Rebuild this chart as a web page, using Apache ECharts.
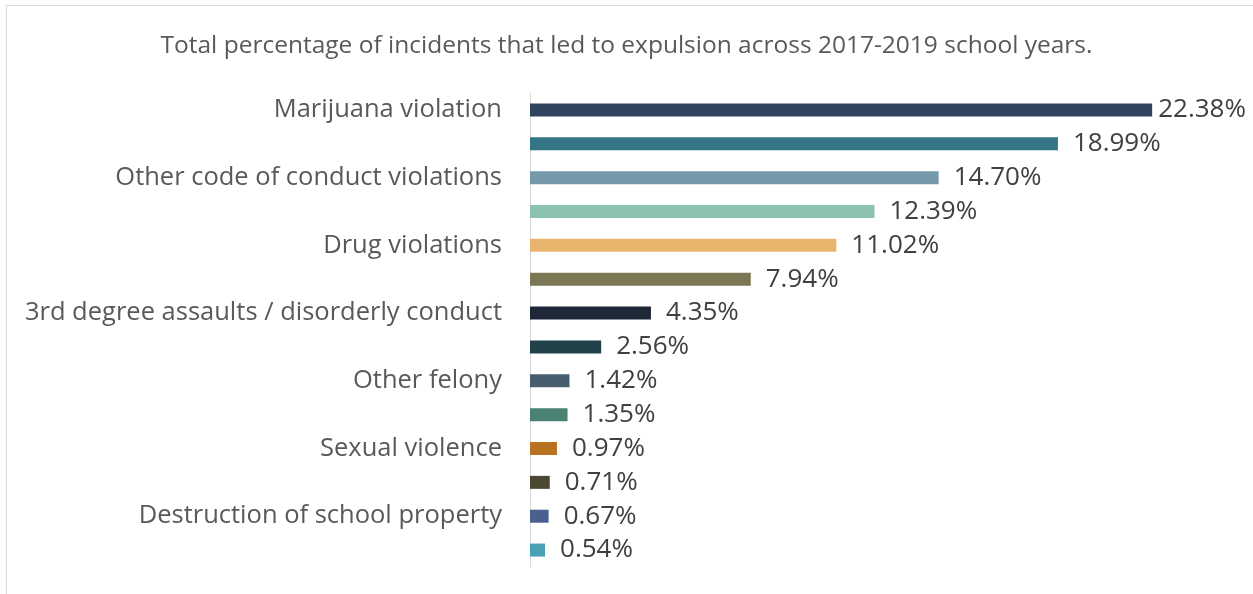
<!DOCTYPE html>
<html>
<head>
<meta charset="utf-8">
<script src="https://cdn.jsdelivr.net/npm/echarts@6/dist/echarts.min.js"></script>
<style>
html,body{margin:0;padding:0;background:#fff;}
#chart{width:1253px;height:594px;}
</style>
</head>
<body>
<div id="chart"></div>
<script>
const titleText = 'Total percentage of incidents that led to expulsion across 2017-2019 school years.';
const categories = [
  'Marijuana violation', '',
  'Other code of conduct violations', '',
  'Drug violations', '',
  '3rd degree assaults / disorderly conduct', '',
  'Other felony', '',
  'Sexual violence', '',
  'Destruction of school property', ''
];
const values = [22.38, 18.99, 14.70, 12.39, 11.02, 7.94, 4.35, 2.56, 1.42, 1.35, 0.97, 0.71, 0.67, 0.54];
const colors = ['#314261', '#337584', '#7599AA', '#8BC1B1', '#E9B46E', '#7B7653', '#1E2738',
                '#20434A', '#475E6E', '#4A8273', '#B77321', '#4A4733', '#4A6190', '#4AA0B5'];

const chart = echarts.init(document.getElementById('chart'));
chart.setOption({
  animation: false,
  backgroundColor: '#fff',
  title: {
    text: titleText,
    left: 'center',
    top: 29,
    textStyle: { fontFamily: 'Open Sans', fontSize: 24.5, fontWeight: 'normal', color: '#595959' }
  },
  graphic: [{
    type: 'rect',
    shape: { x: 6.5, y: 5.5, width: 1400, height: 800 },
    style: { fill: 'none', stroke: '#d9d9d9', lineWidth: 1 },
    silent: true
  }],
  grid: { left: 530, right: 28, top: 93, bottom: 27, containLabel: false },
  xAxis: {
    type: 'value', min: 0, max: 25,
    show: false
  },
  yAxis: {
    type: 'category',
    inverse: true,
    data: categories,
    axisLine: { show: true, lineStyle: { color: '#d9d9d9', width: 1 } },
    axisTick: { show: false },
    axisLabel: {
      interval: 0, margin: 28,
      fontFamily: 'Open Sans', fontSize: 25.5, color: '#595959'
    }
  },
  series: [{
    type: 'bar',
    barWidth: 13,
    data: values.map((v, i) => i === 0
      ? { value: v, itemStyle: { color: colors[i] }, label: { distance: 6 } }
      : { value: v, itemStyle: { color: colors[i] } }),
    label: {
      show: true, position: 'right', distance: 15,
      formatter: p => p.value.toFixed(2) + '%',
      fontFamily: 'Open Sans', fontSize: 26, color: '#404040'
    }
  }]
});
</script>
</body>
</html>
